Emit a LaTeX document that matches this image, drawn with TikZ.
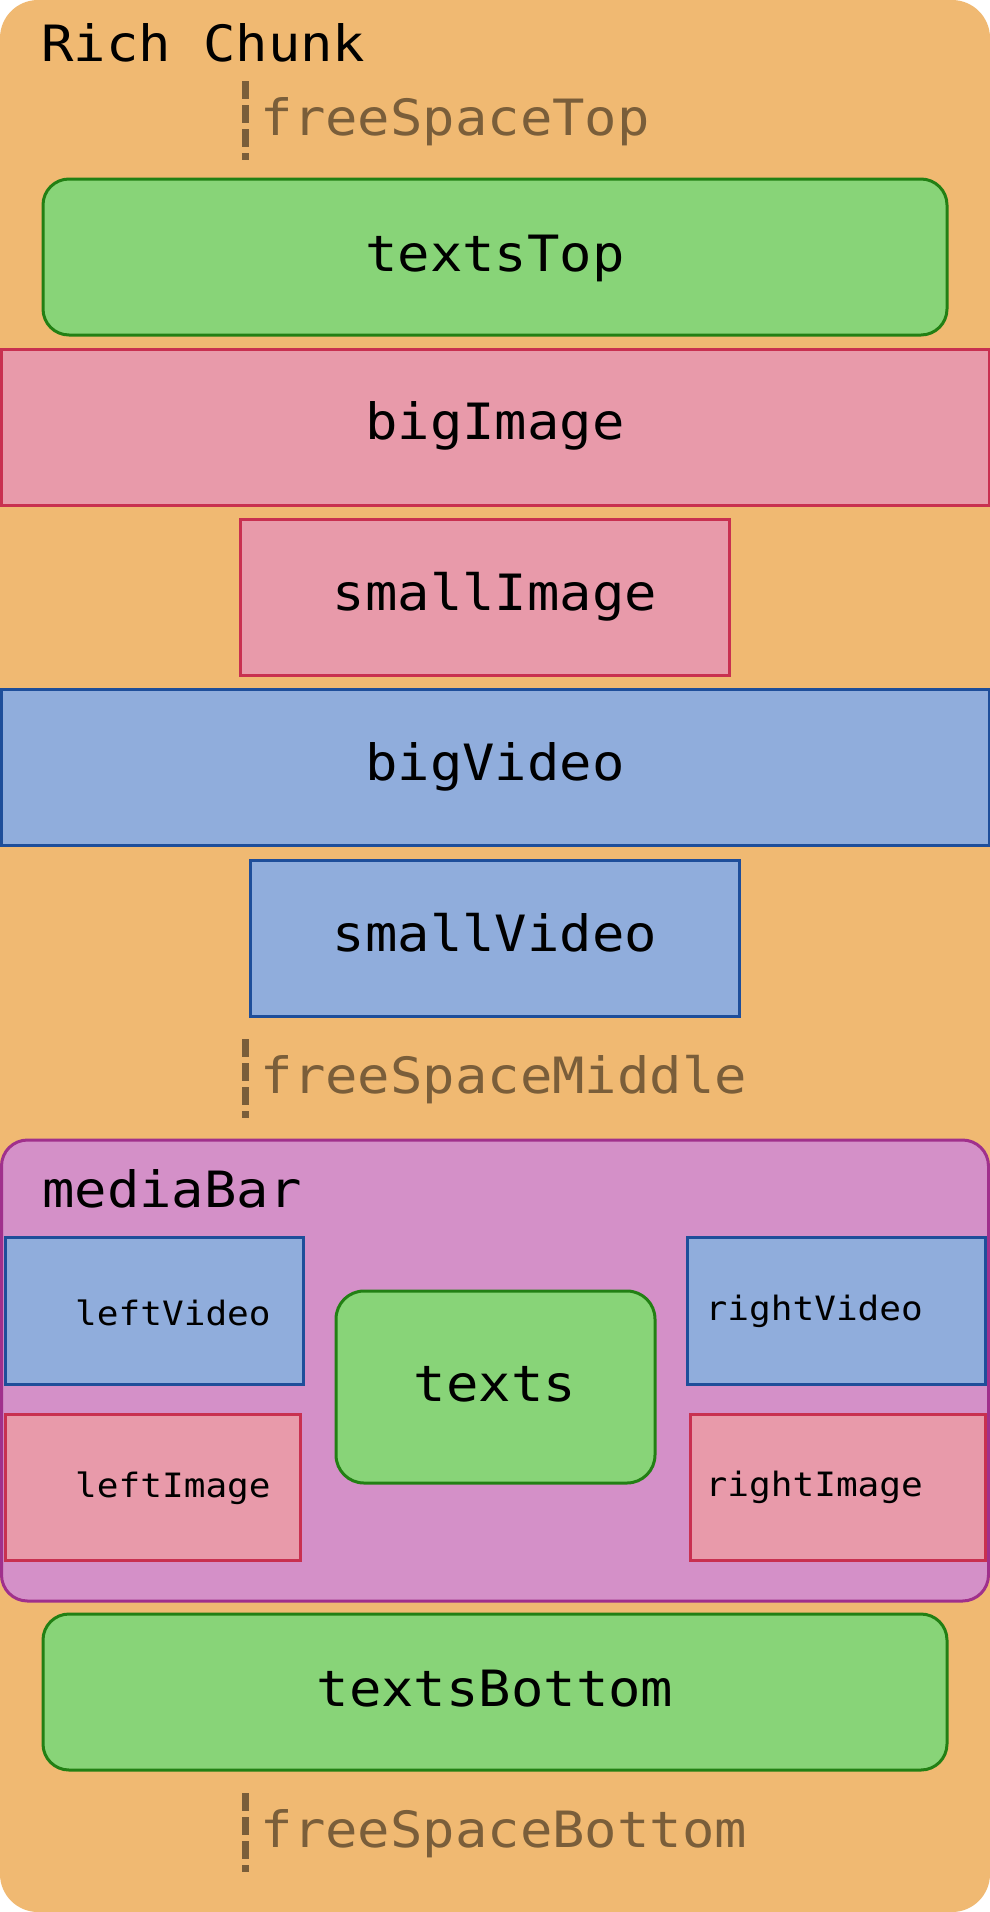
\documentclass[tikz,border=0pt]{standalone}
\usepackage{fontspec}
\newfontfamily\chunkmono[FakeStretch=1.077]{DejaVu Sans Mono}
\usetikzlibrary{fit}
\definecolor{bgOrange}{RGB}{240,185,114}
\definecolor{spaceBrown}{RGB}{122,94,58}
\definecolor{greenFill}{RGB}{136,212,120}
\definecolor{greenLine}{RGB}{34,128,20}
\definecolor{pinkFill}{RGB}{232,154,170}
\definecolor{pinkLine}{RGB}{200,48,80}
\definecolor{blueFill}{RGB}{144,173,220}
\definecolor{blueLine}{RGB}{30,78,154}
\definecolor{purpleFill}{RGB}{212,144,200}
\definecolor{purpleLine}{RGB}{160,48,140}
\tikzset{
  box/.style={draw, line width=3pt, inner sep=0pt, outer sep=0pt, rectangle},
  textbox/.style={box, fill=greenFill, draw=greenLine, rounded corners=26pt},
  imgbox/.style={box, fill=pinkFill, draw=pinkLine},
  vidbox/.style={box, fill=blueFill, draw=blueLine},
  barbox/.style={box, fill=purpleFill, draw=purpleLine, rounded corners=26pt},
  biglbl/.style={inner sep=0pt, anchor=base, font=\chunkmono\fontsize{50}{60}\selectfont},
  titlelbl/.style={biglbl, anchor=base west},
  smalllbl/.style={inner sep=0pt, anchor=base west, font=\chunkmono\fontsize{33.5}{40}\selectfont},
  spacelbl/.style={inner sep=0pt, anchor=base west, text=spaceBrown, font=\chunkmono\fontsize{50}{60}\selectfont},
  spaceline/.style={draw=spaceBrown, line width=7pt, dash pattern=on 18pt off 6pt}
}
\begin{document}
\begin{tikzpicture}[x=1pt,y=-1pt]
\useasboundingbox (0,0) rectangle (990,1912);
\fill[white] (0,0) rectangle (990,1912);
\node[fill=bgOrange, rounded corners=38pt, inner sep=0pt, fit={(0,0) (990,1912)}] (chunk) {};
\node[titlelbl] (chunkT) at (41,61) {Rich Chunk};

% free space top
\coordinate (fstA) at (245,81);
\coordinate (fstB) at (245,160);
\draw[spaceline] (fstA) -- (fstB);
\node[spacelbl] (fstT) at (260.5,135) {freeSpaceTop};

\node[textbox, fit={(43,179) (947,335)}] (textsTop) {};
\node[biglbl] (textsTopT) at (495,271) {textsTop};

\node[imgbox, fit={(1,349) (989,505)}] (bigImage) {};
\node[biglbl] (bigImageT) at (495,439) {bigImage};

\node[imgbox, fit={(240,519) (729,675)}] (smallImage) {};
\node[biglbl] (smallImageT) at (495,610) {smallImage};

\node[vidbox, fit={(1,689) (989,845)}] (bigVideo) {};
\node[biglbl] (bigVideoT) at (495,780) {bigVideo};

\node[vidbox, fit={(250,860) (739,1016)}] (smallVideo) {};
\node[biglbl] (smallVideoT) at (495,951) {smallVideo};

% free space middle
\coordinate (fsmA) at (245,1039);
\coordinate (fsmB) at (245,1118);
\draw[spaceline] (fsmA) -- (fsmB);
\node[spacelbl] (fsmT) at (260.5,1093) {freeSpaceMiddle};

\node[barbox, fit={(1.5,1140) (988.5,1601)}] (mediaBar) {};
\node[titlelbl] (mediaBarT) at (42,1207) {mediaBar};

\node[vidbox, fit={(5,1237) (303,1384)}] (leftVideo) {};
\node[smalllbl] (leftVideoT) at (75,1325) {leftVideo};

\node[imgbox, fit={(5,1414) (300,1560)}] (leftImage) {};
\node[smalllbl] (leftImageT) at (75,1497) {leftImage};

\node[textbox, rounded corners=28pt, fit={(336,1291) (655,1483)}] (texts) {};
\node[biglbl] (textsT) at (495,1401) {texts};

\node[vidbox, fit={(687,1237) (985,1384)}] (rightVideo) {};
\node[smalllbl] (rightVideoT) at (705.5,1320) {rightVideo};

\node[imgbox, fit={(690,1414) (985,1560)}] (rightImage) {};
\node[smalllbl] (rightImageT) at (705.5,1496) {rightImage};

\node[textbox, fit={(43,1614) (947,1770)}] (textsBottom) {};
\node[biglbl] (textsBottomT) at (495,1706) {textsBottom};

% free space bottom
\coordinate (fsbA) at (245,1793);
\coordinate (fsbB) at (245,1872);
\draw[spaceline] (fsbA) -- (fsbB);
\node[spacelbl] (fsbT) at (260.5,1847) {freeSpaceBottom};
\end{tikzpicture}
\end{document}
